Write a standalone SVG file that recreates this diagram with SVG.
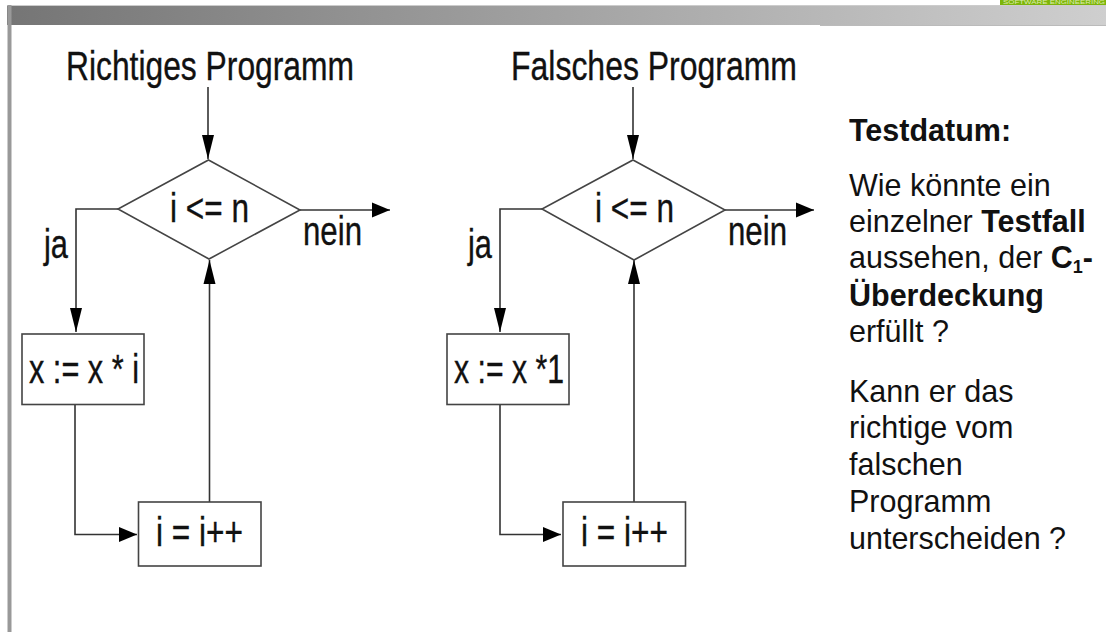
<svg xmlns="http://www.w3.org/2000/svg" width="1106" height="632" viewBox="0 0 1106 632">
<style>
text{font-family:"Liberation Sans",Arial,sans-serif;fill:#111}
.d{font-size:40px;stroke:#111;stroke-width:.35}
.s{font-size:30.500px}
.b{font-weight:bold}
.ln{fill:none;stroke:#333;stroke-width:1.6}
.nd{fill:#fff;stroke:#444;stroke-width:1.6}
</style>
<defs>
<linearGradient id="bar" x1="0" x2="1" y1="0" y2="0"><stop offset="0" stop-color="#757575"/><stop offset="1" stop-color="#cfcfcf"/></linearGradient>
<marker id="mv" markerUnits="userSpaceOnUse" markerWidth="26" markerHeight="14" refX="24" refY="7" orient="auto"><path d="M0 1L24 7L0 13Z" fill="#000"/></marker>
<marker id="mh" markerUnits="userSpaceOnUse" markerWidth="20" markerHeight="16" refX="18" refY="8" orient="auto"><path d="M0 .5L18 8L0 15.500Z" fill="#000"/></marker>
</defs>
<rect width="1106" height="632" fill="#fff"/>
<g id="frame">
<rect x="7" y="5" width="1099" height="20" fill="url(#bar)"/>
<rect x="820" y="25" width="286" height="1" fill="#bbb"/>
<rect x="7" y="5" width="1099" height="1" fill="#ccc"/>
<rect x="7.500" y="5" width="4" height="627" fill="#999"/>
<rect x="1000" y="0" width="106" height="5" fill="#7db509"/>
<text x="1003" y="4.100" font-size="4.500" textLength="102" lengthAdjust="spacingAndGlyphs" style="fill:#dcecb0">SOFTWARE ENGINEERING</text>
</g>
<g id="connectors">
<path class="ln" d="M208 87V159" marker-end="url(#mv)"/>
<path class="ln" d="M118 209H76V332" marker-end="url(#mv)"/>
<path class="ln" d="M300 210H390" marker-end="url(#mh)"/>
<path class="ln" d="M209.500 502V260" marker-end="url(#mv)"/>
<path class="ln" d="M75 404V534.500H137" marker-end="url(#mh)"/>
<path class="ln" d="M633 87V159" marker-end="url(#mv)"/>
<path class="ln" d="M542 209H500V332" marker-end="url(#mv)"/>
<path class="ln" d="M725 210H814" marker-end="url(#mh)"/>
<path class="ln" d="M634 502V260" marker-end="url(#mv)"/>
<path class="ln" d="M500 404V534.500H561" marker-end="url(#mh)"/>
</g>
<g id="title-richtig"><text class="d" x="66" y="80" textLength="288" lengthAdjust="spacingAndGlyphs">Richtiges Programm</text></g>
<g id="decision-richtig"><polygon class="nd" points="208.500,160 300,210 209,259 118,209"/><text class="d" x="170" y="222" textLength="79" lengthAdjust="spacingAndGlyphs">i &lt;= n</text></g>
<g id="label-ja-richtig"><text class="d" x="44" y="258" textLength="24" lengthAdjust="spacingAndGlyphs">ja</text></g>
<g id="label-nein-richtig"><text class="d" x="303" y="245" textLength="59" lengthAdjust="spacingAndGlyphs">nein</text></g>
<g id="assign-richtig"><rect class="nd" x="22" y="334" width="122" height="70.500"/><text class="d" x="29" y="383" textLength="110" lengthAdjust="spacingAndGlyphs">x := x * i</text></g>
<g id="inc-richtig"><rect class="nd" x="138.500" y="502" width="122.500" height="64"/><text class="d" x="156" y="546" textLength="87" lengthAdjust="spacingAndGlyphs">i = i++</text></g>
<g id="title-falsch"><text class="d" x="511" y="80" textLength="286" lengthAdjust="spacingAndGlyphs">Falsches Programm</text></g>
<g id="decision-falsch"><polygon class="nd" points="633,160 725,210 634,260 542,209"/><text class="d" x="595" y="222" textLength="79" lengthAdjust="spacingAndGlyphs">i &lt;= n</text></g>
<g id="label-ja-falsch"><text class="d" x="468" y="258" textLength="24" lengthAdjust="spacingAndGlyphs">ja</text></g>
<g id="label-nein-falsch"><text class="d" x="728" y="245" textLength="59" lengthAdjust="spacingAndGlyphs">nein</text></g>
<g id="assign-falsch"><rect class="nd" x="447" y="334" width="122" height="70.500"/><text class="d" x="454" y="383" textLength="110" lengthAdjust="spacingAndGlyphs">x := x *1</text></g>
<g id="inc-falsch"><rect class="nd" x="563" y="502" width="122.500" height="64"/><text class="d" x="581" y="546" textLength="87" lengthAdjust="spacingAndGlyphs">i = i++</text></g>
<g id="side-text">
<text class="s b" x="849" y="141">Testdatum:</text>
<text class="s" x="849" y="196">Wie könnte ein</text>
<text class="s" x="849" y="232">einzelner <tspan class="b">Testfall</tspan></text>
<text class="s" x="849" y="268">aussehen, der <tspan class="b">C</tspan><tspan class="b" font-size="18" dy="5">1</tspan><tspan class="b" dy="-5">-</tspan></text>
<text class="s b" x="849" y="306">Überdeckung</text>
<text class="s" x="849" y="342">erfüllt ?</text>
<text class="s" x="849" y="402">Kann er das</text>
<text class="s" x="849" y="438">richtige vom</text>
<text class="s" x="849" y="475">falschen</text>
<text class="s" x="849" y="512">Programm</text>
<text class="s" x="849" y="549">unterscheiden ?</text>
</g>
</svg>
